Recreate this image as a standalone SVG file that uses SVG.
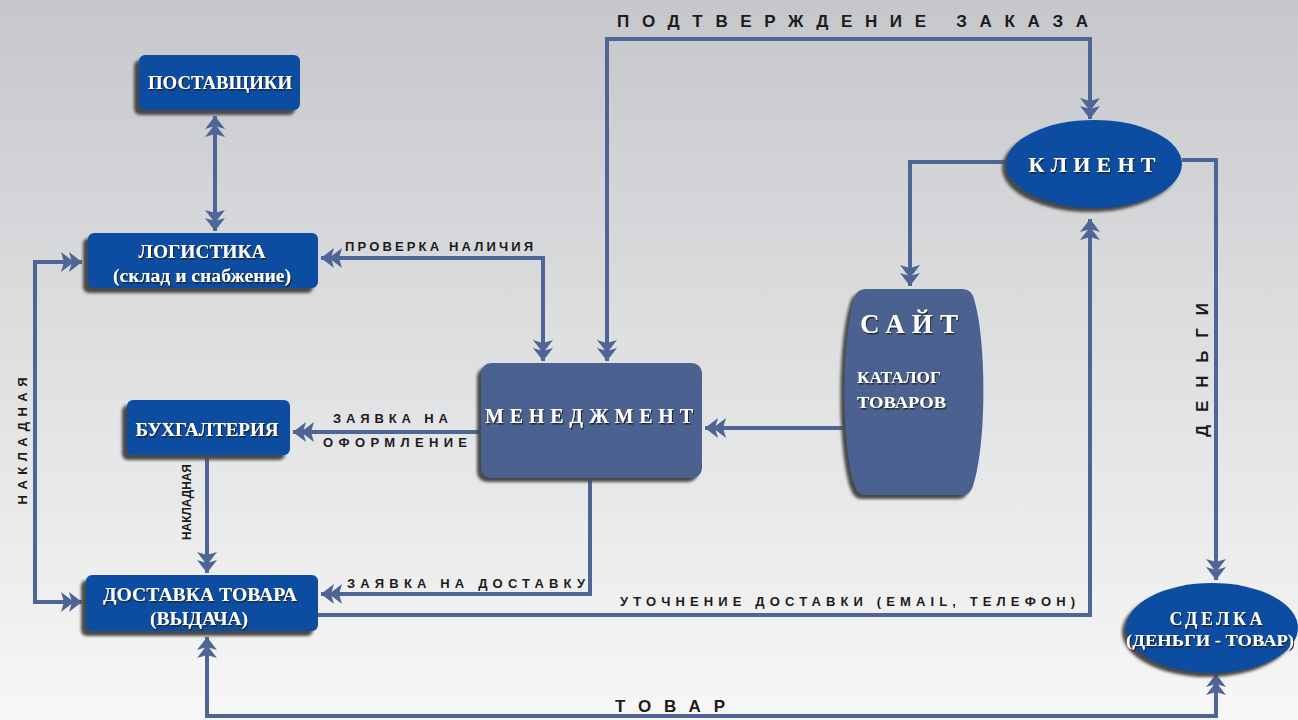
<svg xmlns="http://www.w3.org/2000/svg" width="1298" height="720" viewBox="0 0 1298 720">
<defs>
<linearGradient id="bg" x1="0" y1="0" x2="0" y2="1">
<stop offset="0" stop-color="#c6c7ca"/>
<stop offset="0.5" stop-color="#dfe0e2"/>
<stop offset="1" stop-color="#f7f7f7"/>
</linearGradient>
<filter id="sh" x="-20%" y="-20%" width="140%" height="140%"><feGaussianBlur stdDeviation="1.5"/></filter>
<filter id="ts" x="-10%" y="-30%" width="120%" height="160%"><feDropShadow dx="1" dy="1.5" stdDeviation="0.6" flood-color="#1a1a1a" flood-opacity="0.9"/></filter>
<marker id="ah" viewBox="-1 -12 24 24" refX="21" refY="0" markerWidth="24" markerHeight="24" markerUnits="userSpaceOnUse" orient="auto-start-reverse">
<path d="M0,-10 L13,0 L0,10 L3,0 Z M8,-10 L21,0 L8,10 L11,0 Z" fill="#4f6596"/>
</marker>
<style>
.blue{fill:#0c4da2}
.slate{fill:#4b6290}
.shd{fill:#4a4a4a;filter:url(#sh)}
.nt{font-family:"Liberation Serif",serif;font-weight:bold;fill:#ffffff;filter:url(#ts);text-anchor:middle}
.lb{font-family:"Liberation Sans",Arial,sans-serif;font-weight:bold;fill:#1c1c1c}
.cn{fill:none;stroke:#4f6596;stroke-width:4}
</style>
</defs>
<rect x="0" y="0" width="1298" height="720" fill="url(#bg)"/>

<g id="connectors">
<path class="cn" d="M215,116 V231" marker-start="url(#ah)" marker-end="url(#ah)"/>
<path class="cn" d="M321,258 H543 V361" marker-start="url(#ah)" marker-end="url(#ah)"/>
<path class="cn" d="M607,361 V39 H1090 V119" marker-start="url(#ah)" marker-end="url(#ah)"/>
<path class="cn" d="M1006,162 H910 V286" marker-end="url(#ah)"/>
<path class="cn" d="M846,428 H705" marker-end="url(#ah)"/>
<path class="cn" d="M481,432 H293" marker-end="url(#ah)"/>
<path class="cn" d="M207,458 V573" marker-end="url(#ah)"/>
<path class="cn" d="M590,478 V594 H321" marker-end="url(#ah)"/>
<path class="cn" d="M82,262 H35 V602 H82" marker-start="url(#ah)" marker-end="url(#ah)"/>
<path class="cn" d="M318,615 H1090 V219" marker-end="url(#ah)"/>
<path class="cn" d="M1182,160 H1216 V580" marker-end="url(#ah)"/>
<path class="cn" d="M207,637 V716 H1216 V674" marker-start="url(#ah)" marker-end="url(#ah)"/>
<text class="lb" x="617" y="27" font-size="17" textLength="471" lengthAdjust="spacing">ПОДТВЕРЖДЕНИЕ ЗАКАЗА</text>
<text class="lb" x="345" y="251" font-size="13" textLength="188" lengthAdjust="spacing">ПРОВЕРКА НАЛИЧИЯ</text>
<text class="lb" x="333" y="423" font-size="13" textLength="115" lengthAdjust="spacing">ЗАЯВКА НА</text>
<text class="lb" x="323" y="447" font-size="13" textLength="144" lengthAdjust="spacing">ОФОРМЛЕНИЕ</text>
<text class="lb" x="347" y="588" font-size="13" textLength="238" lengthAdjust="spacing">ЗАЯВКА НА ДОСТАВКУ</text>
<text class="lb" x="620" y="606" font-size="13" textLength="455" lengthAdjust="spacing">УТОЧНЕНИЕ ДОСТАВКИ (EMAIL, ТЕЛЕФОН)</text>
<text class="lb" x="615" y="712" font-size="17" textLength="110" lengthAdjust="spacing">ТОВАР</text>
<text class="lb" font-size="13" text-anchor="middle" transform="translate(27,441) rotate(-90)" textLength="127" lengthAdjust="spacing">НАКЛАДНАЯ</text>
<text class="lb" font-size="12" text-anchor="middle" transform="translate(191,502) rotate(-90)" textLength="76" lengthAdjust="spacing">НАКЛАДНАЯ</text>
<text class="lb" font-size="17" text-anchor="middle" transform="translate(1208,370) rotate(-90)" textLength="134" lengthAdjust="spacing">ДЕНЬГИ</text>
</g>

<g id="postavshchiki">
<rect class="shd" x="134" y="60" width="161" height="55" rx="6"/>
<rect class="blue" x="139" y="55" width="161" height="55" rx="6"/>
<text class="nt" x="220" y="89" font-size="18" textLength="144" lengthAdjust="spacingAndGlyphs">ПОСТАВЩИКИ</text>
</g>

<g id="logistika">
<rect class="shd" x="83" y="238" width="230" height="55" rx="6"/>
<rect class="blue" x="88" y="233" width="230" height="55" rx="6"/>
<text class="nt" x="202" y="258" font-size="18" textLength="127" lengthAdjust="spacingAndGlyphs">ЛОГИСТИКА</text>
<text class="nt" x="202" y="282" font-size="18" textLength="178" lengthAdjust="spacingAndGlyphs">(склад и снабжение)</text>
</g>

<g id="buhgalteriya">
<rect class="shd" x="122" y="405" width="163" height="55" rx="6"/>
<rect class="blue" x="127" y="400" width="163" height="55" rx="6"/>
<text class="nt" x="207" y="436" font-size="18" textLength="143" lengthAdjust="spacingAndGlyphs">БУХГАЛТЕРИЯ</text>
</g>

<g id="dostavka">
<rect class="shd" x="81" y="580" width="232" height="56" rx="6"/>
<rect class="blue" x="86" y="575" width="232" height="56" rx="6"/>
<text class="nt" x="200" y="601" font-size="18" textLength="194" lengthAdjust="spacingAndGlyphs">ДОСТАВКА ТОВАРА</text>
<text class="nt" x="199" y="625" font-size="18" textLength="98" lengthAdjust="spacingAndGlyphs">(ВЫДАЧА)</text>
</g>

<g id="menedzhment">
<rect class="shd" x="477" y="367" width="221" height="115" rx="10"/>
<rect class="slate" x="481" y="363" width="221" height="115" rx="10"/>
<text class="nt" x="589" y="423" font-size="20" textLength="208" lengthAdjust="spacing">МЕНЕДЖМЕНТ</text>
</g>

<g id="sait">
<path class="shd" d="M862,293 H958 Q966,293 969,300 C983,340 983,450 969,490 Q966,499 958,499 H862 Q854,499 851,490 C837,450 837,340 851,300 Q854,293 862,293 Z"/>
<path class="slate" d="M866,289 H962 Q970,289 973,296 C987,336 987,446 973,486 Q970,495 962,495 H866 Q858,495 855,486 C841,446 841,336 855,296 Q858,289 866,289 Z"/>
<text class="nt" x="909" y="333" font-size="27" textLength="98" lengthAdjust="spacing">САЙТ</text>
<text class="nt" x="857" y="383" font-size="17" style="text-anchor:start" textLength="84" lengthAdjust="spacingAndGlyphs">КАТАЛОГ</text>
<text class="nt" x="857" y="408" font-size="17" style="text-anchor:start" textLength="89" lengthAdjust="spacingAndGlyphs">ТОВАРОВ</text>
</g>

<g id="klient">
<ellipse class="shd" cx="1090" cy="168" rx="88" ry="44"/>
<ellipse class="blue" cx="1094" cy="164" rx="88" ry="44"/>
<text class="nt" x="1092" y="172" font-size="22" textLength="127" lengthAdjust="spacing">КЛИЕНТ</text>
</g>

<g id="sdelka">
<ellipse class="shd" cx="1208" cy="632" rx="86" ry="45"/>
<ellipse class="blue" cx="1212" cy="628" rx="86" ry="45"/>
<text class="nt" x="1216" y="625" font-size="18" textLength="93" lengthAdjust="spacing">СДЕЛКА</text>
<text class="nt" x="1210" y="646" font-size="16" textLength="168" lengthAdjust="spacingAndGlyphs">(ДЕНЬГИ - ТОВАР)</text>
</g>
</svg>
